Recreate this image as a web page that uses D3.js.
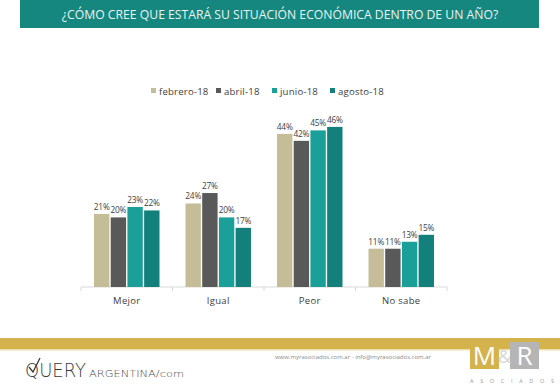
<!DOCTYPE html>
<html>
<head>
<meta charset="utf-8">
<script src="https://cdn.jsdelivr.net/npm/d3@7"></script>
<style>
  body { margin: 0; background: #fff; }
  svg { display: block; font-family: "Open Sans", sans-serif; }
</style>
</head>
<body>
<svg id="chart" width="560" height="388"></svg>
<script>
const categories = ['Mejor', 'Igual', 'Peor', 'No sabe'];
const seriesNames = ['febrero-18', 'abril-18', 'junio-18', 'agosto-18'];
const febrero = [21, 24, 44, 11];
const abril = [20, 27, 42, 11];
const junio = [23, 20, 45, 13];
const agosto = [22, 17, 46, 15];
const colors = ['#c4bd97', '#595959', '#1a9f99', '#13807b'];

const series = [febrero, abril, junio, agosto];
const rows = categories.map((c, i) => ({
  cat: c,
  vals: series.map((s, j) => ({ key: seriesNames[j], value: s[i] })),
}));

const svg = d3.select('#chart');

// header band
svg.append('rect').attr('x', 20).attr('y', 0).attr('width', 519).attr('height', 28).attr('fill', '#16877f');
svg.append('text')
  .attr('x', 280).attr('y', 18.5)
  .attr('text-anchor', 'middle')
  .attr('fill', '#e8f4f2')
  .style('font-size', '12.2px')
  .text('¿CÓMO CREE QUE ESTARÁ SU SITUACIÓN ECONÓMICA DENTRO DE UN AÑO?');

// scales
const x0 = d3.scaleBand().domain(categories).range([81, 447]).paddingInner(0).paddingOuter(0);
const x1 = d3.scaleBand().domain(seriesNames).range([13, x0.bandwidth() - 13]).paddingInner(0.08);
const y = d3.scaleLinear().domain([0, 50]).range([287, 113]);

// axis
const axis = svg.append('g').attr('transform', 'translate(0,287)');
axis.append('line').attr('x1', 81).attr('x2', 447).attr('stroke', '#d9d9d9');
axis.selectAll('.tick')
  .data(categories.map(c => x0(c)).concat([447]))
  .join('line')
  .attr('x1', d => d).attr('x2', d => d)
  .attr('y1', 0).attr('y2', 4)
  .attr('stroke', '#d9d9d9');

axis.selectAll('.cat')
  .data(categories)
  .join('text')
  .attr('x', d => x0(d) + x0.bandwidth() / 2)
  .attr('y', 17)
  .attr('text-anchor', 'middle')
  .attr('fill', '#404040')
  .style('font-size', '9.5px')
  .style('letter-spacing', '0.3px')
  .text(d => d);

// bars
const groups = svg.selectAll('.grp')
  .data(rows)
  .join('g')
  .attr('transform', d => `translate(${x0(d.cat)},0)`);

groups.selectAll('rect')
  .data(d => d.vals)
  .join('rect')
  .attr('x', d => x1(d.key))
  .attr('y', d => y(d.value))
  .attr('width', x1.bandwidth())
  .attr('height', d => y(0) - y(d.value))
  .attr('fill', (d, i) => colors[i]);

groups.selectAll('text')
  .data(d => d.vals)
  .join('text')
  .attr('x', d => x1(d.key) + x1.bandwidth() / 2)
  .attr('y', d => y(d.value) - 4)
  .attr('text-anchor', 'middle')
  .attr('fill', '#404040')
  .style('font-size', '8.3px')
  .style('letter-spacing', '-0.2px')
  .text(d => d.value + '%');

// legend
const legendX = [151, 216, 272, 330];
const legend = svg.selectAll('.leg')
  .data(seriesNames)
  .join('g')
  .attr('transform', (d, i) => `translate(${legendX[i]},92)`);
legend.append('rect').attr('x', 0).attr('y', -4).attr('width', 5).attr('height', 5).attr('fill', (d, i) => colors[i]);
legend.append('text')
  .attr('x', 8).attr('y', 2.5)
  .attr('fill', '#404040')
  .style('font-size', '9.6px')
  .style('letter-spacing', '0.2px')
  .text(d => d);

// footer band
svg.append('rect').attr('x', 0).attr('y', 338).attr('width', 560).attr('height', 11).attr('fill', '#d4b24c');
svg.append('rect').attr('x', 0).attr('y', 349).attr('width', 560).attr('height', 1.5).attr('fill', '#eedfae');

// QUERY logo
const q = svg.append('g').attr('transform', 'translate(25,377)');
q.append('text')
  .attr('fill', '#3a3a3a')
  .style('font-family', '"DejaVu Sans", sans-serif')
  .style('font-size', '19px')
  .style('font-weight', '200')
  .attr('textLength', 61)
  .attr('lengthAdjust', 'spacingAndGlyphs')
  .text('QUERY');
q.append('path').attr('d', 'M4,-10 L8,-5 L15,-19').attr('fill', 'none').attr('stroke', '#3a3a3a').attr('stroke-width', 1.3);
q.append('text')
  .attr('x', 64)
  .attr('fill', '#444')
  .style('font-family', '"DejaVu Sans", sans-serif')
  .style('font-size', '9.5px')
  .style('font-weight', '300')
  .attr('textLength', 95)
  .attr('lengthAdjust', 'spacingAndGlyphs')
  .text('ARGENTINA/com');

// contact
svg.append('text')
  .attr('x', 431).attr('y', 359)
  .attr('text-anchor', 'end')
  .attr('fill', '#8a8a8a')
  .style('font-size', '6px')
  .text('www.myrasociados.com.ar - info@myrasociados.com.ar');

// M&R logo
svg.append('rect').attr('x', 470).attr('y', 342).attr('width', 29).attr('height', 27).attr('fill', '#d4b24c');
svg.append('rect').attr('x', 510).attr('y', 342).attr('width', 29).attr('height', 27).attr('fill', '#b5b5b5');
svg.append('text').attr('x', 484.5).attr('y', 365).attr('text-anchor', 'middle').attr('fill', '#fff')
  .style('font-size', '26px').text('M');
svg.append('text').attr('x', 504.5).attr('y', 363).attr('text-anchor', 'middle').attr('fill', '#d7d7d7')
  .style('font-size', '18px').text('&');
svg.append('text').attr('x', 524.5).attr('y', 365).attr('text-anchor', 'middle').attr('fill', '#fff')
  .style('font-size', '26px').text('R');
svg.append('text').attr('x', 470).attr('y', 383)
  .attr('fill', '#9a9a9a')
  .style('font-size', '5.5px')
  .attr('textLength', 84)
  .text('A S O C I A D O S');
</script>
</body>
</html>
